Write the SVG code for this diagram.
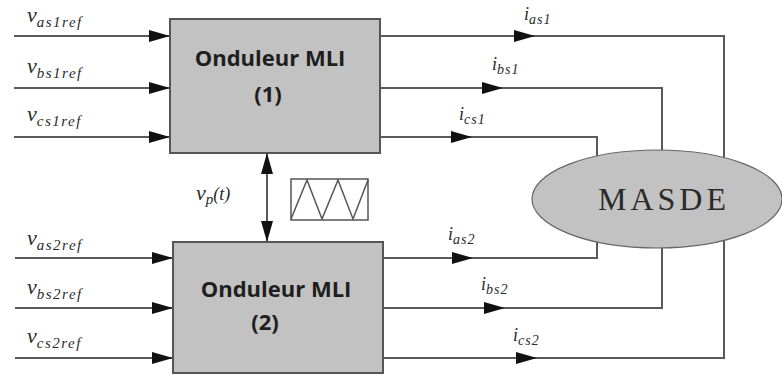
<svg xmlns="http://www.w3.org/2000/svg" width="782" height="377" viewBox="0 0 782 377">
  <style>
    .wire { fill: none; stroke: #5a5a5a; stroke-width: 2; }
    .box { fill: #c2c2c2; stroke: #555; stroke-width: 2; }
    .title { font-family: "Open Sans", "Liberation Sans", sans-serif; font-weight: bold; font-size: 22px; fill: #1e1e1e; text-anchor: middle; }
    .lbl { font-family: "Liberation Serif", serif; font-style: italic; fill: #2a2a2a; }
    .v { font-size: 22px; }
    .sub { font-size: 15px; letter-spacing: 1.5px; }
    .i { font-size: 18px; }
    .isub { font-size: 14px; letter-spacing: 1px; }
    .masde { font-family: "Liberation Serif", serif; font-size: 32px; letter-spacing: 4px; fill: #2a2a2a; text-anchor: middle; }
  </style>
  <defs>
    <marker id="arr" markerUnits="userSpaceOnUse" markerWidth="22" markerHeight="12" refX="21" refY="6" orient="auto-start-reverse">
      <path d="M0,0 L21,6 L0,12 Z" fill="#111"/>
    </marker>
  </defs>
  <rect width="782" height="377" fill="#fff"/>

  <g id="connectors">
    <!-- inputs inverter 1 -->
    <path class="wire" d="M14,36 H170" marker-end="url(#arr)"/>
    <path class="wire" d="M14,88 H170" marker-end="url(#arr)"/>
    <path class="wire" d="M14,137 H170" marker-end="url(#arr)"/>
    <!-- inputs inverter 2 -->
    <path class="wire" d="M15,258 H173" marker-end="url(#arr)"/>
    <path class="wire" d="M15,308 H173" marker-end="url(#arr)"/>
    <path class="wire" d="M15,358 H173" marker-end="url(#arr)"/>
    <!-- outputs inverter 1 -->
    <path class="wire" d="M380,36 H535" marker-end="url(#arr)"/>
    <path class="wire" d="M535,36 H724 V199"/>
    <path class="wire" d="M380,88 H503" marker-end="url(#arr)"/>
    <path class="wire" d="M503,88 H662 V199"/>
    <path class="wire" d="M380,137 H472" marker-end="url(#arr)"/>
    <path class="wire" d="M472,137 H597 V199"/>
    <!-- outputs inverter 2 -->
    <path class="wire" d="M383,258 H473" marker-end="url(#arr)"/>
    <path class="wire" d="M473,258 H597 V199"/>
    <path class="wire" d="M383,308 H505" marker-end="url(#arr)"/>
    <path class="wire" d="M505,308 H662 V199"/>
    <path class="wire" d="M383,358 H537" marker-end="url(#arr)"/>
    <path class="wire" d="M537,358 H724 V199"/>
    <!-- carrier link -->
    <path class="wire" d="M267,153 V242" marker-start="url(#arr)" marker-end="url(#arr)"/>
  </g>

  <g id="inverter1">
    <rect class="box" x="170" y="19" width="210" height="134"/>
    <text class="title" x="270" y="66">Onduleur MLI</text>
    <text class="title" x="268" y="102">(1)</text>
  </g>

  <g id="inverter2">
    <rect class="box" x="173" y="242" width="210" height="131"/>
    <text class="title" x="276" y="297">Onduleur MLI</text>
    <text class="title" x="265" y="330">(2)</text>
  </g>

  <g id="carrier">
    <rect x="291" y="179" width="77" height="41" fill="#fff" stroke="#555" stroke-width="1.5"/>
    <polyline points="291,219 307,180 322,219 338,180 353,219 368,180" fill="none" stroke="#555" stroke-width="1.5"/>
    <text class="lbl" x="196" y="200"><tspan class="v">v</tspan><tspan font-size="15px" dy="4">p</tspan><tspan font-size="18px" dy="-4">(t)</tspan></text>
  </g>

  <g id="masde">
    <ellipse cx="657" cy="199" rx="125" ry="49" fill="#c2c2c2" stroke="#666" stroke-width="1.2"/>
    <text class="masde" x="664" y="210">MASDE</text>
  </g>

  <g id="labels">
    <text class="lbl" x="27" y="22"><tspan class="v">v</tspan><tspan class="sub" dy="5">as1ref</tspan></text>
    <text class="lbl" x="27" y="73"><tspan class="v">v</tspan><tspan class="sub" dy="5">bs1ref</tspan></text>
    <text class="lbl" x="27" y="121"><tspan class="v">v</tspan><tspan class="sub" dy="5">cs1ref</tspan></text>
    <text class="lbl" x="27" y="245"><tspan class="v">v</tspan><tspan class="sub" dy="5">as2ref</tspan></text>
    <text class="lbl" x="27" y="294"><tspan class="v">v</tspan><tspan class="sub" dy="5">bs2ref</tspan></text>
    <text class="lbl" x="27" y="343"><tspan class="v">v</tspan><tspan class="sub" dy="5">cs2ref</tspan></text>

    <text class="lbl" x="524" y="20"><tspan class="i">i</tspan><tspan class="isub" dy="4">as1</tspan></text>
    <text class="lbl" x="492" y="70"><tspan class="i">i</tspan><tspan class="isub" dy="4">bs1</tspan></text>
    <text class="lbl" x="459" y="120"><tspan class="i">i</tspan><tspan class="isub" dy="4">cs1</tspan></text>
    <text class="lbl" x="448" y="240"><tspan class="i">i</tspan><tspan class="isub" dy="4">as2</tspan></text>
    <text class="lbl" x="481" y="290"><tspan class="i">i</tspan><tspan class="isub" dy="4">bs2</tspan></text>
    <text class="lbl" x="513" y="341"><tspan class="i">i</tspan><tspan class="isub" dy="4">cs2</tspan></text>
  </g>
</svg>
